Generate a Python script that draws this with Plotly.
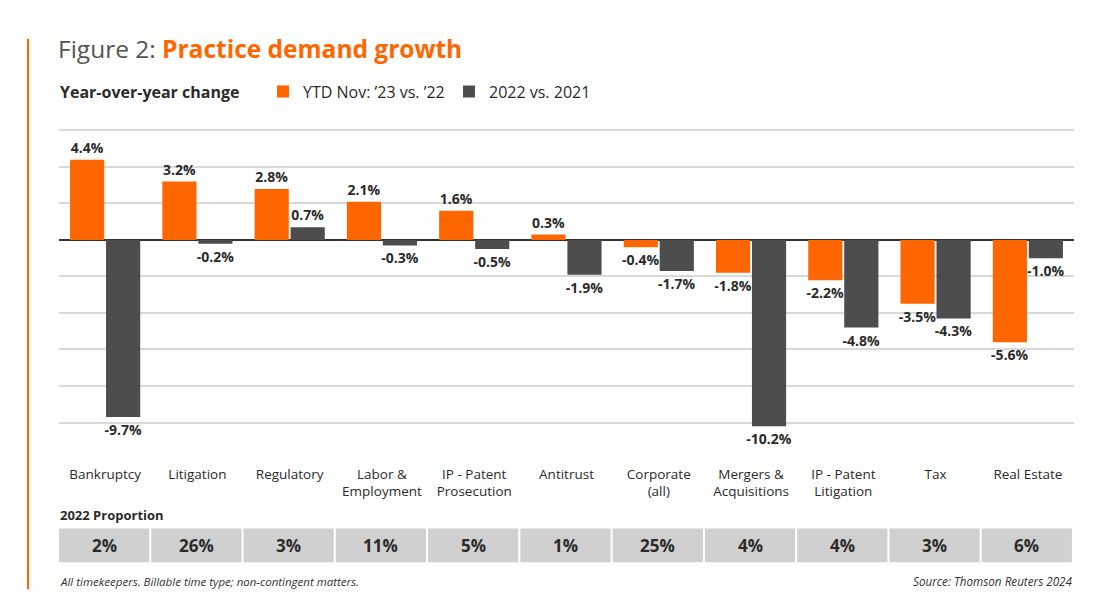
import plotly.graph_objects as go

categories = ["Bankruptcy", "Litigation", "Regulatory", "Labor &<br>Employment",
              "IP - Patent<br>Prosecution", "Antitrust", "Corporate<br>(all)",
              "Mergers &<br>Acquisitions", "IP - Patent<br>Litigation", "Tax", "Real Estate"]
ytd_2023 = [4.4, 3.2, 2.8, 2.1, 1.6, 0.3, -0.4, -1.8, -2.2, -3.5, -5.6]
yoy_2022 = [-9.7, -0.2, 0.7, -0.3, -0.5, -1.9, -1.7, -10.2, -4.8, -4.3, -1.0]
proportion_2022 = [2, 26, 3, 11, 5, 1, 25, 4, 4, 3, 6]
grid_ticks = [-10, -8, -6, -4, -2, 0, 2, 4, 6]

ORANGE = "#FF6600"
DARK = "#4D4D4D"
TXT = "#2B2B2B"
FONT = "Open Sans"

W, H = 1115, 616
L, R = 59, 1074
Y_MIN, Y_MAX = -12, 6.3
SCALE = (459.4 - 130) / 18.0          # pixels per percentage point
BOT = 459.4
TOP = 130 - (Y_MAX - 6) * SCALE
ph = BOT - TOP

def py(pix):
    return (BOT - pix) / ph

def px(pix):
    return (pix - L) / (R - L)

fig = go.Figure()
fig.add_trace(go.Bar(
    x=categories, y=ytd_2023, name="YTD Nov: \u201923 vs. \u201922",
    marker=dict(color=ORANGE, line=dict(width=0)),
    text=[f"{v:.1f}%" for v in ytd_2023], textposition="outside",
    textfont=dict(family=FONT, size=14, color=TXT, weight="bold"),
    constraintext="none", cliponaxis=False,
))
fig.add_trace(go.Bar(
    x=categories, y=yoy_2022, name="2022 vs. 2021",
    marker=dict(color=DARK, line=dict(width=0)),
    text=[f"{v:.1f}%" for v in yoy_2022], textposition="outside",
    textfont=dict(family=FONT, size=14, color=TXT, weight="bold"),
    constraintext="none", cliponaxis=False,
))

shapes = []
annotations = []
# proportion boxes
for i, v in enumerate(proportion_2022):
    shapes.append(dict(type="rect", xref="x", yref="paper",
                       x0=i - 0.5, x1=i + 0.5 - 0.022,
                       y0=py(563), y1=py(529),
                       fillcolor="#D0D0D0", line=dict(width=0), layer="below"))
    annotations.append(dict(x=i - 0.011, xref="x", y=py(546), yref="paper",
                            text=f"<b>{v}%</b>", showarrow=False,
                            font=dict(family=FONT, size=17, color=TXT),
                            xanchor="center", yanchor="middle"))

# left orange accent line
shapes.append(dict(type="line", xref="paper", yref="paper",
                   x0=px(28), x1=px(28), y0=py(38), y1=py(590),
                   line=dict(color=ORANGE, width=2)))

annotations += [
    dict(x=px(56), y=py(48), xref="paper", yref="paper", showarrow=False,
         xanchor="left", yanchor="middle",
         text="<span style='color:#555555'>Figure 2: </span><b style='color:#FF6600'>Practice demand growth</b>",
         font=dict(family=FONT, size=24.5, color="#555555")),
    dict(x=px(58), y=py(91), xref="paper", yref="paper", showarrow=False,
         xanchor="left", yanchor="middle", text="<b>Year-over-year change</b>",
         font=dict(family=FONT, size=16, color=TXT)),
    dict(x=px(58), y=py(516), xref="paper", yref="paper", showarrow=False,
         xanchor="left", yanchor="middle", text="<b>2022 Proportion</b>",
         font=dict(family=FONT, size=13, color=TXT)),
    dict(x=px(58), y=py(582), xref="paper", yref="paper", showarrow=False,
         xanchor="left", yanchor="middle",
         text="<i>All timekeepers. Billable time type; non-contingent matters.</i>",
         font=dict(family=FONT, size=11.5, color="#333333")),
    dict(x=px(1075), y=py(582), xref="paper", yref="paper", showarrow=False,
         xanchor="right", yanchor="middle",
         text="<i>Source: Thomson Reuters 2024</i>",
         font=dict(family=FONT, size=11.7, color="#333333")),
]

fig.update_layout(
    width=W, height=H,
    margin=dict(l=L, r=W - R, t=TOP, b=H - BOT),
    paper_bgcolor="white", plot_bgcolor="white",
    barmode="group", bargap=0.22, bargroupgap=0.05,
    font=dict(family=FONT, color=TXT),
    showlegend=True,
    legend=dict(orientation="h", x=px(263), y=py(91), xref="paper", yref="paper",
                xanchor="left", yanchor="middle",
                font=dict(family=FONT, size=16, color=TXT),
                itemwidth=30, entrywidth=141, entrywidthmode="pixels",
                bgcolor="rgba(0,0,0,0)"),
    xaxis=dict(showgrid=False, showline=False, ticks="",
               tickfont=dict(family=FONT, size=13.5, color=TXT),
               ticklabelstandoff=5),
    yaxis=dict(range=[Y_MIN, Y_MAX], tickvals=grid_ticks, showticklabels=False,
               showgrid=True, gridcolor="#D9D9D9", gridwidth=1.5,
               zeroline=True, zerolinecolor="#333333", zerolinewidth=1.5,
               showline=False),
    shapes=shapes, annotations=annotations,
)

fig.write_html("out.html", config={"displayModeBar": False},
               post_script="document.body.style.margin='0';")
